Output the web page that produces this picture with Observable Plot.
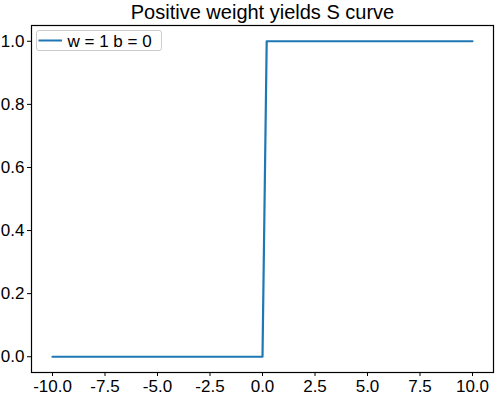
<!DOCTYPE html>
<html><head><meta charset="utf-8">
<script src="https://cdn.jsdelivr.net/npm/d3@7"></script>
<script src="https://cdn.jsdelivr.net/npm/@observablehq/plot@0.6"></script>
<style>body{margin:0;background:#fff;}</style>
</head><body><div id="chart"></div>
<script>
const title = "Positive weight yields S curve";
const seriesLabel = "w = 1 b = 0";
const xs = [-10, 0, 0.2, 10];
const ys = [0, 0, 1, 1];
const xTicks = [-10, -7.5, -5, -2.5, 0, 2.5, 5, 7.5, 10];
const yTicks = [0, 0.2, 0.4, 0.6, 0.8, 1.0];
const lineColor = "#1f77b4";

const points = xs.map((x, i) => ({x, y: ys[i]}));
const W = 496, H = 397;
const mL = 31, mR = 3, mT = 25, mB = 25;

const legend = (index, scales, values, dims) => {
  const g = d3.create("svg:g");
  const x0 = dims.marginLeft, y0 = dims.marginTop;
  g.append("rect").attr("x", x0 + 5.5).attr("y", y0 + 5.5).attr("width", 125).attr("height", 20)
    .attr("rx", 2.5).attr("fill", "white").attr("fill-opacity", 0.8).attr("stroke", "#cccccc").attr("stroke-width", 1);
  g.append("line").attr("x1", x0 + 7.5).attr("x2", x0 + 31).attr("y1", y0 + 15.5).attr("y2", y0 + 15.5)
    .attr("stroke", lineColor).attr("stroke-width", 2);
  g.append("text").attr("x", x0 + 36.5).attr("y", y0 + 21.5).attr("font-size", 17)
    .attr("text-anchor", "start").attr("fill", "black").text(seriesLabel);
  return g.node();
};

const plot = Plot.plot({
  width: W, height: H,
  marginLeft: mL, marginRight: mR, marginTop: mT, marginBottom: mB,
  style: {fontFamily: "'Liberation Sans', Arial, sans-serif", fontSize: "17px", color: "black", overflow: "visible", background: "white"},
  x: {domain: [-11, 11], label: null},
  y: {domain: [-0.05, 1.05], label: null},
  marks: [
    Plot.axisX({ticks: xTicks, tickFormat: d => d.toFixed(1), tickSize: 4, tickPadding: 3, fontSize: 17, label: null}),
    Plot.axisY({ticks: yTicks, tickFormat: d => d.toFixed(1), tickSize: 4, tickPadding: 3, fontSize: 17, label: null}),
    Plot.line(points, {x: "x", y: "y", stroke: lineColor, strokeWidth: 2.2}),
    Plot.frame({stroke: "black", strokeWidth: 1.2}),
    legend,
    Plot.text([title], {frameAnchor: "top", lineAnchor: "middle", dy: -13, fontSize: 20, fill: "black"})
  ]
});
document.getElementById("chart").appendChild(plot);
</script>
</body></html>
